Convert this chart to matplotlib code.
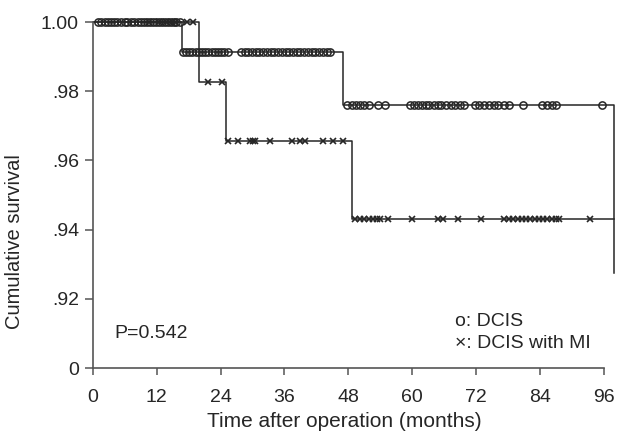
import matplotlib
matplotlib.use("Agg")
import matplotlib.pyplot as plt

plt.rcParams['font.family'] = ['Liberation Sans', 'DejaVu Sans']

# step curves (months, cumulative survival)
dcis_t = [0, 16.7, 47.0, 98.0]
dcis_s = [1.0, 0.9913, 0.976, 0.9275]
mi_t = [0, 19.9, 25.1, 48.7, 98.0]
mi_s = [1.0, 0.9827, 0.9655, 0.943, 0.943]

# censored observations, DCIS
dcis_c100 = [1.0, 1.5, 2.2, 2.8, 3.5, 4.0, 4.6, 5.3, 6.0, 6.5, 7.2, 7.8, 8.5, 9.0,
             9.6, 10.2, 10.8, 11.3, 11.9, 12.4, 13.0, 13.5, 14.1, 14.6, 15.2, 15.7, 16.3]
dcis_c991 = [16.9, 17.5, 18.1, 18.7, 19.3, 19.9, 20.5, 21.1, 21.7, 22.3, 22.9, 23.5,
             24.1, 24.7, 25.3, 27.8, 28.5, 29.2, 29.9, 30.6, 31.3, 32.0, 32.7, 33.4,
             34.1, 34.8, 35.5, 36.2, 36.9, 37.6, 38.3, 39.0, 39.7, 40.4, 41.1, 41.8,
             42.5, 43.2, 43.9, 44.6]
dcis_c976 = [47.8, 48.6, 49.4, 50.2, 51.0, 51.8, 53.5, 54.8, 59.5, 60.3, 61.0, 61.8,
             62.5, 63.2, 64.0, 64.8, 65.5, 66.3, 67.2, 68.0, 69.0, 69.8, 71.8, 72.6,
             73.5, 74.4, 75.3, 76.2, 77.2, 78.2, 80.8, 84.3, 85.3, 86.2, 87.0, 95.6]

# censored observations, DCIS with MI
mi_c100 = [10.5, 12.5, 13.8, 14.8, 15.5, 17.6, 18.8]
mi_c983 = [21.6, 24.3]
mi_c966 = [25.4, 27.2, 29.5, 30.0, 30.5, 33.3, 37.4, 38.9, 39.8, 43.2, 45.1, 47.0]
mi_c943 = [49.3, 50.2, 51.0, 51.8, 52.6, 53.3, 54.0, 55.5, 60.0, 64.8, 65.7, 68.6,
           73.0, 77.3, 78.2, 79.0, 79.8, 80.6, 81.4, 82.2, 83.0, 83.8, 84.6, 85.4,
           86.2, 87.0, 87.6, 93.4]

xticks = [0, 12, 24, 36, 48, 60, 72, 84, 96]
yticks = [0.90, 0.92, 0.94, 0.96, 0.98, 1.00]
ytick_labels = ['0', '.92', '.94', '.96', '.98', '1.00']

ink = '#262626'
fs = 14

fig = plt.figure(figsize=(6.19, 4.32), dpi=100)
ax = fig.add_axes([0.150, 0.148, 0.847, 0.817])

ax.step(dcis_t, dcis_s, where='post', color=ink, lw=1.1)
ax.step(mi_t, mi_s, where='post', color=ink, lw=1.1)

circ = dict(ls='none', marker='o', ms=5.2, mfc='none', mec=ink, mew=1.1)
cross = dict(ls='none', marker='x', ms=5.0, color=ink, mew=1.2)
ax.plot(dcis_c100, [1.0] * len(dcis_c100), **circ)
ax.plot(dcis_c991, [dcis_s[1]] * len(dcis_c991), **circ)
ax.plot(dcis_c976, [dcis_s[2]] * len(dcis_c976), **circ)
ax.plot(mi_c100, [1.0] * len(mi_c100), **cross)
ax.plot(mi_c983, [mi_s[1]] * len(mi_c983), **cross)
ax.plot(mi_c966, [mi_s[2]] * len(mi_c966), **cross)
ax.plot(mi_c943, [mi_s[3]] * len(mi_c943), **cross)

ax.set_xlim(0, 98.5)
ax.set_ylim(0.90, 1.002)
ax.set_xticks(xticks)
ax.set_yticks(yticks)
ax.set_yticklabels(ytick_labels)
ax.spines['top'].set_visible(False)
ax.spines['right'].set_visible(False)
ax.spines['bottom'].set_bounds(0, 96)
ax.spines['left'].set_bounds(0.90, 1.00)
for s in ('left', 'bottom'):
    ax.spines[s].set_color('#555555')
    ax.spines[s].set_linewidth(1.2)
ax.tick_params(axis='x', length=5, width=1.1, color='#555555', pad=10,
               labelsize=fs, labelcolor=ink)
ax.tick_params(axis='y', length=6, width=1.1, color='#555555', pad=4,
               labelsize=fs, labelcolor=ink)

ax.text(4.1, 0.9101, 'P=0.542', fontsize=fs, color=ink, ha='left', va='center')
ax.text(68, 0.9136, 'o: DCIS', fontsize=fs, color=ink, ha='left', va='center')
ax.text(68, 0.9072, '\u00d7: DCIS with MI', fontsize=fs, color=ink, ha='left', va='center')

fig.text(0.024, 0.44, 'Cumulative survival', rotation=90, fontsize=14.5,
         color=ink, ha='center', va='center')
fig.text(0.557, 0.025, 'Time after operation (months)', fontsize=15,
         color=ink, ha='center', va='center')

fig.savefig('out.png', dpi=100)
